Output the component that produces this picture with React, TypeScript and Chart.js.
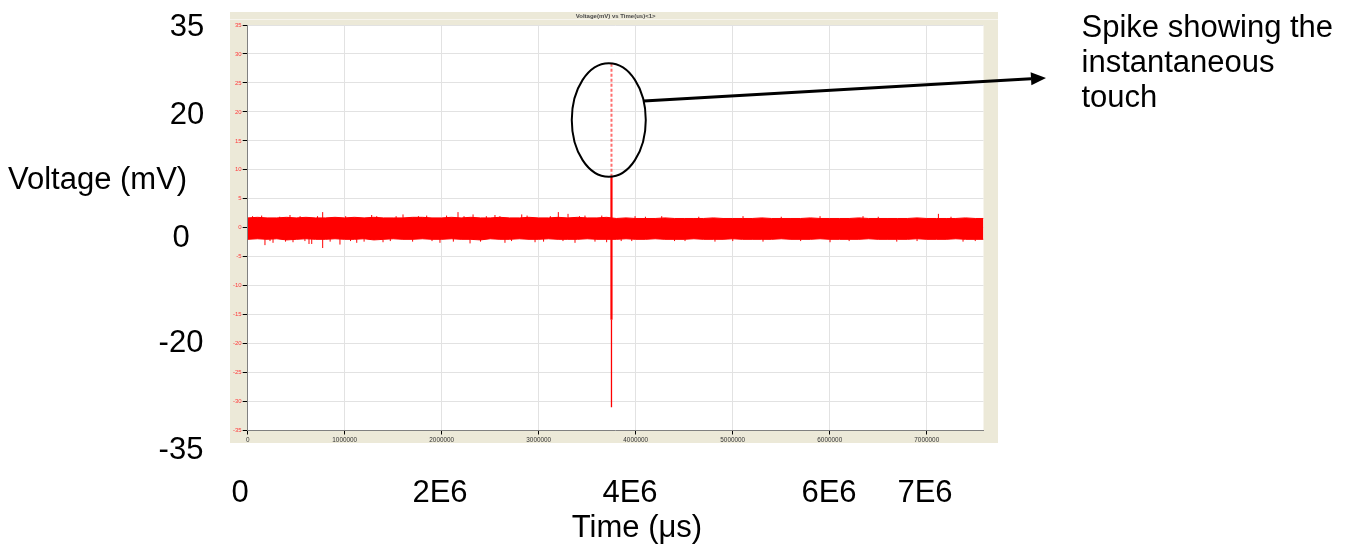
import React, { useEffect, useRef } from "react";
import { Chart, registerables } from "chart.js";

Chart.register(...registerables);

// ---------- data ----------
const ENV_TIME_US = [
  0, 100000, 200000, 300000, 400000, 500000, 600000, 700000, 800000, 900000,
  1000000, 1100000, 1200000, 1300000, 1400000, 1500000, 1600000, 1700000, 1800000, 1900000,
  2000000, 2100000, 2200000, 2300000, 2400000, 2500000, 2600000, 2700000, 2800000, 2900000,
  3000000, 3100000, 3200000, 3300000, 3400000, 3500000, 3600000, 3700000, 3800000, 3900000,
  4000000, 4100000, 4200000, 4300000, 4400000, 4500000, 4600000, 4700000, 4800000, 4900000,
  5000000, 5100000, 5200000, 5300000, 5400000, 5500000, 5600000, 5700000, 5800000, 5900000,
  6000000, 6100000, 6200000, 6300000, 6400000, 6500000, 6600000, 6700000, 6800000, 6900000,
  7000000, 7100000, 7200000, 7300000, 7400000, 7500000, 7585000,
];
const UPPER_MV = [
  1.7, 1.8, 1.7, 1.7, 1.8, 1.7, 1.8, 1.7, 1.7, 1.8,
  1.7, 1.8, 1.7, 1.8, 1.7, 1.7, 1.7, 1.8, 1.8, 1.7,
  1.7, 1.8, 1.7, 1.8, 1.7, 1.7, 1.8, 1.7, 1.7, 1.8,
  1.7, 1.7, 1.8, 1.7, 1.8, 1.7, 1.7, 1.8, 1.6, 1.7,
  1.6, 1.6, 1.6, 1.7, 1.6, 1.6, 1.6, 1.6, 1.7, 1.6,
  1.6, 1.6, 1.6, 1.7, 1.6, 1.6, 1.6, 1.6, 1.7, 1.6,
  1.6, 1.6, 1.6, 1.7, 1.6, 1.6, 1.6, 1.6, 1.6, 1.7,
  1.6, 1.6, 1.6, 1.6, 1.7, 1.6, 1.6,
];
const LOWER_MV = [
  -2.0, -1.9, -2.0, -1.9, -2.1, -2.0, -1.9, -2.0, -2.0, -1.9,
  -2.0, -2.0, -1.9, -2.1, -2.0, -1.9, -2.0, -2.0, -1.9, -2.0,
  -2.0, -1.9, -2.0, -2.0, -2.1, -1.9, -2.0, -2.0, -1.9, -2.0,
  -2.0, -1.9, -2.0, -2.0, -2.0, -1.9, -2.0, -2.0, -2.0, -1.9,
  -2.0, -2.0, -1.9, -2.0, -2.0, -2.0, -1.9, -2.0, -2.0, -2.0,
  -1.9, -2.0, -2.0, -2.0, -2.0, -1.9, -2.0, -2.0, -2.0, -1.9,
  -2.0, -2.0, -2.0, -2.0, -1.9, -2.0, -2.0, -2.0, -2.0, -1.9,
  -2.0, -2.0, -2.0, -1.9, -2.0, -2.0, -2.0,
];
const PEAK_TIME_US = [
  144000, 178000, 261000, 436000, 467000, 632000, 660000, 773000, 951000, 1124000,
  1278000, 1395000, 1601000, 1845000, 1982000, 2168000, 2292000, 2323000, 2549000, 2652000,
  2825000, 2962000, 3202000, 3302000, 3374000, 3477000, 3580000, 3959000, 3993000, 4268000,
  4508000, 4817000, 5106000, 5312000, 5900000, 6003000, 6343000, 6691000, 7120000, 7374000,
  50000, 230000, 330000, 390000, 540000, 590000, 720000, 850000, 1010000, 1060000,
  1200000, 1330000, 1470000, 1530000, 1700000, 1760000, 1900000, 2050000, 2120000, 2230000,
  2400000, 2460000, 2600000, 2720000, 2880000, 3050000, 3120000, 3250000, 3420000, 3650000,
  3700000, 3850000, 4100000, 4400000, 4650000, 5000000, 5500000, 5700000, 6200000, 6500000,
  6900000, 7250000, 7500000,
];
const PEAK_HIGH_MV = [
  2.1, 1.0, 1.0, 2.2, 1.0, 1.0, 1.0, 2.7, 1.0, 1.0,
  2.2, 1.0, 2.3, 2.1, 1.0, 2.7, 1.0, 2.3, 2.2, 1.0,
  2.3, 1.0, 2.7, 2.4, 1.0, 2.1, 1.0, 1.0, 2.0, 2.0,
  1.0, 1.0, 2.0, 1.0, 2.0, 1.0, 2.0, 1.0, 2.4, 1.0,
  2.0, 1.0, 1.9, 1.0, 2.0, 1.0, 2.0, 1.0, 2.0, 1.0,
  1.0, 2.0, 1.0, 2.0, 1.0, 2.0, 1.0, 2.1, 1.0, 2.0,
  1.0, 2.0, 2.0, 1.0, 2.1, 1.0, 2.0, 1.0, 2.0, 2.1,
  1.0, 1.0, 1.9, 1.0, 1.9, 1.0, 1.9, 1.0, 1.0, 1.9,
  1.0, 1.9, 1.0,
];
const PEAK_LOW_MV = [
  -1.5, -3.0, -2.6, -1.5, -2.5, -2.8, -2.8, -3.5, -2.9, -2.6,
  -1.5, -2.5, -1.5, -1.5, -2.6, -1.5, -2.7, -1.5, -1.5, -2.6,
  -1.5, -2.5, -1.5, -1.5, -2.6, -1.5, -2.4, -2.3, -1.5, -1.5,
  -2.3, -2.4, -1.5, -2.4, -1.5, -2.5, -1.5, -2.4, -1.5, -2.4,
  -1.5, -2.3, -1.5, -2.4, -1.5, -2.3, -1.5, -2.4, -1.5, -2.3,
  -2.4, -1.5, -2.3, -1.5, -2.4, -1.5, -2.3, -1.5, -2.4, -1.5,
  -2.4, -1.5, -1.5, -2.3, -1.5, -2.4, -1.5, -2.3, -1.5, -1.5,
  -2.5, -2.3, -1.5, -2.3, -1.5, -2.3, -1.5, -2.3, -2.3, -1.5,
  -2.3, -1.5, -2.3,
];
const SPIKE_TIME_US = 3750000;
const SPIKE_TOP_MV = 28.4;
const SPIKE_DASH_START_MV = 8.8;
const SPIKE_THICK_END_MV = -15.9;
const SPIKE_BOTTOM_MV = -31;

const X_MIN_US = 0;
const X_MAX_US = 7585000;
const X_TICKS_US = [0, 1000000, 2000000, 3000000, 4000000, 5000000, 6000000, 7000000];
const Y_MIN_MV = -35;
const Y_MAX_MV = 35;
const Y_STEP_MV = 5;

const CHART_TITLE = "Voltage(mV) vs Time(us)<1>";
const OUTER_Y_LABELS = ["35", "20", "0", "-20", "-35"];
const OUTER_X_LABELS = ["0", "2E6", "4E6", "6E6", "7E6"];
const Y_TITLE = "Voltage (mV)";
const X_TITLE = "Time (\u03bcs)";
const NOTE_LINES = ["Spike showing the", "instantaneous", "touch"];

// ---------- layout (pixels) ----------
const W = 1353;
const H = 545;
const PLOT = { left: 247.7, top: 25, right: 983.5, bottom: 430.5 };
const X_AXIS_BOX = 14.5;
const PANEL = { left: 230, top: 12, right: 998, bottom: 443 };
const OUTER_Y_POS = [
  [187, 27],
  [187, 115],
  [181, 238],
  [181, 343],
  [181, 450],
];
const OUTER_X_POS = [240, 440, 630, 829, 925];
const OUTER_X_Y = 493;
const BIG_FONT = '31px "Liberation Sans", Arial, sans-serif';
const SMALL_FAMILY = '"Liberation Sans", Arial, sans-serif';

const decor = {
  id: "decor",
  beforeDraw(chart: any) {
    const { ctx, chartArea: a } = chart;
    ctx.save();
    ctx.fillStyle = "#ece9d8";
    ctx.fillRect(PANEL.left, PANEL.top, PANEL.right - PANEL.left, PANEL.bottom - PANEL.top);
    ctx.fillStyle = "#f7f5ee";
    ctx.fillRect(PANEL.left, 19, PANEL.right - PANEL.left, 1);
    ctx.fillStyle = "#ffffff";
    ctx.fillRect(a.left, a.top, a.right - a.left, a.bottom - a.top);
    ctx.fillStyle = "#4a4a4a";
    ctx.font = "bold 6px " + SMALL_FAMILY;
    ctx.textAlign = "center";
    ctx.textBaseline = "middle";
    ctx.fillText(CHART_TITLE, (a.left + a.right) / 2, 16.5);
    ctx.restore();
  },
  afterDraw(chart: any) {
    const { ctx } = chart;
    const xs = chart.scales.x;
    const ys = chart.scales.y;
    ctx.save();
    // ellipse around the spike
    const cx = xs.getPixelForValue(SPIKE_TIME_US) - 2.7;
    const yTop = ys.getPixelForValue(SPIKE_TOP_MV);
    const yBot = ys.getPixelForValue(SPIKE_DASH_START_MV);
    const cy = (yTop + yBot) / 2;
    const ry = (yBot - yTop) / 2;
    const rx = 37;
    ctx.strokeStyle = "#000";
    ctx.lineWidth = 2;
    ctx.beginPath();
    ctx.ellipse(cx, cy, rx, ry, 0, 0, Math.PI * 2);
    ctx.stroke();
    // arrow
    const sy = 101;
    const sx = cx + rx * Math.sqrt(Math.max(0, 1 - ((sy - cy) / ry) ** 2));
    const tx = 1046;
    const ty = 78;
    const ang = Math.atan2(ty - sy, tx - sx);
    const headLen = 15;
    const headHalf = 6.5;
    const bx = tx - headLen * Math.cos(ang);
    const by = ty - headLen * Math.sin(ang);
    ctx.lineWidth = 3;
    ctx.beginPath();
    ctx.moveTo(sx, sy);
    ctx.lineTo(bx, by);
    ctx.stroke();
    ctx.fillStyle = "#000";
    ctx.beginPath();
    ctx.moveTo(tx, ty);
    ctx.lineTo(bx + headHalf * Math.sin(ang), by - headHalf * Math.cos(ang));
    ctx.lineTo(bx - headHalf * Math.sin(ang), by + headHalf * Math.cos(ang));
    ctx.closePath();
    ctx.fill();
    // big outer labels
    ctx.font = BIG_FONT;
    ctx.fillStyle = "#000";
    ctx.textBaseline = "middle";
    ctx.textAlign = "center";
    OUTER_Y_LABELS.forEach((t, i) => ctx.fillText(t, OUTER_Y_POS[i][0], OUTER_Y_POS[i][1]));
    OUTER_X_LABELS.forEach((t, i) => ctx.fillText(t, OUTER_X_POS[i], OUTER_X_Y));
    ctx.fillText(X_TITLE, 637, 528);
    ctx.textAlign = "left";
    ctx.fillText(Y_TITLE, 8, 180);
    ctx.textBaseline = "alphabetic";
    NOTE_LINES.forEach((t, i) => ctx.fillText(t, 1081.5, 37 + i * 35));
    ctx.restore();
  },
};

export default function App() {
  const ref = useRef<HTMLCanvasElement | null>(null);
  useEffect(() => {
    if (!ref.current) return;
    const upper = ENV_TIME_US.map((t, i) => ({ x: t, y: UPPER_MV[i] }));
    const lower = ENV_TIME_US.map((t, i) => ({ x: t, y: LOWER_MV[i] }));
    const peaks: any[] = [];
    PEAK_TIME_US.forEach((t, i) => {
      peaks.push({ x: t, y: PEAK_LOW_MV[i] }, { x: t, y: PEAK_HIGH_MV[i] }, { x: t, y: null });
    });
    const red = "#ff0000";
    const gridStyle = { color: "#e2e2e2", tickColor: "#000", tickLength: 4, lineWidth: 1 };
    const chart = new Chart(ref.current, {
      type: "line",
      data: {
        datasets: [
          {
            data: [
              { x: SPIKE_TIME_US, y: SPIKE_DASH_START_MV },
              { x: SPIKE_TIME_US, y: SPIKE_TOP_MV },
            ],
            borderColor: "rgba(255,50,50,0.7)",
            borderWidth: 2,
            borderDash: [3, 2],
            fill: false,
          },
          {
            data: [
              { x: SPIKE_TIME_US, y: SPIKE_DASH_START_MV },
              { x: SPIKE_TIME_US, y: SPIKE_THICK_END_MV },
            ],
            borderColor: red,
            borderWidth: 2.2,
            fill: false,
          },
          {
            data: [
              { x: SPIKE_TIME_US, y: SPIKE_THICK_END_MV },
              { x: SPIKE_TIME_US, y: SPIKE_BOTTOM_MV },
            ],
            borderColor: red,
            borderWidth: 1.3,
            fill: false,
          },
          { data: peaks, borderColor: red, borderWidth: 1, fill: false, spanGaps: false },
          { data: upper, borderColor: red, backgroundColor: red, borderWidth: 1, fill: "+1" },
          { data: lower, borderColor: red, backgroundColor: red, borderWidth: 1, fill: false },
        ] as any,
      },
      options: {
        animation: false,
        responsive: false,
        events: [],
        layout: {
          padding: {
            left: 0,
            top: PLOT.top,
            right: W - PLOT.right,
            bottom: H - PLOT.bottom - X_AXIS_BOX,
          },
        },
        plugins: {
          legend: { display: false },
          tooltip: { enabled: false },
          title: { display: false },
        },
        elements: { point: { radius: 0 }, line: { tension: 0 } },
        scales: {
          x: {
            type: "linear",
            min: X_MIN_US,
            max: X_MAX_US,
            ticks: {
              callback: (v: any) => String(v),
              color: "#333",
              font: { size: 6.4, family: SMALL_FAMILY },
              padding: 2,
              maxRotation: 0,
              autoSkip: false,
            },
            grid: gridStyle,
            border: { color: "#808080", width: 1 },
            afterBuildTicks: (s: any) => {
              s.ticks = X_TICKS_US.map((value) => ({ value }));
            },
            afterFit: (s: any) => {
              s.height = X_AXIS_BOX;
            },
          },
          y: {
            min: Y_MIN_MV,
            max: Y_MAX_MV,
            ticks: {
              stepSize: Y_STEP_MV,
              color: "#ff3b3b",
              font: { size: 6, family: SMALL_FAMILY },
              padding: 1,
            },
            grid: { ...gridStyle, tickLength: 5 },
            border: { color: "#808080", width: 1 },
            afterFit: (s: any) => {
              s.width = PLOT.left;
            },
          },
        },
      } as any,
      plugins: [decor],
    });
    return () => chart.destroy();
  }, []);
  return (
    <div style={{ position: "absolute", left: 0, top: 0, width: W, height: H }}>
      <canvas ref={ref} width={W} height={H} style={{ display: "block" }} />
    </div>
  );
}
